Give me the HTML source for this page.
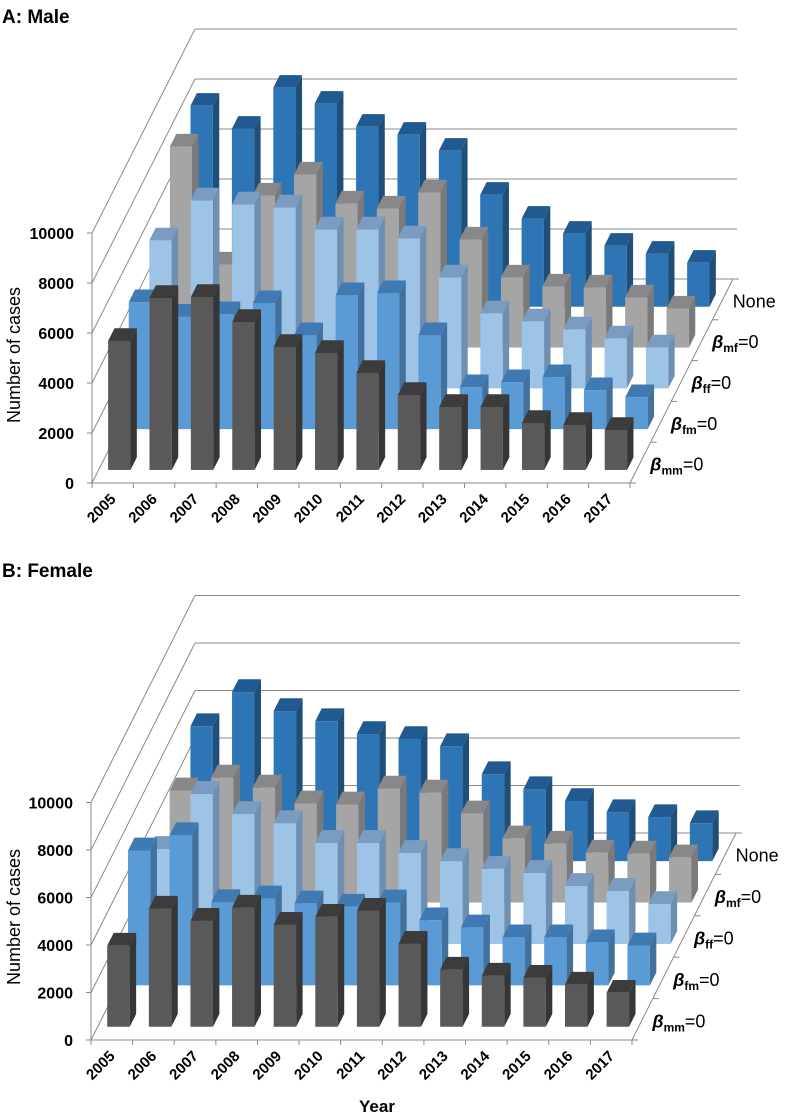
<!DOCTYPE html>
<html><head><meta charset="utf-8">
<style>
html,body{margin:0;padding:0;background:#fff;}
svg{display:block;font-family:"Liberation Sans",sans-serif;}
</style></head>
<body>
<svg id="fig" width="787" height="1116" viewBox="0 0 787 1116" xmlns="http://www.w3.org/2000/svg">
<text x="2" y="23" font-size="19" font-weight="bold">A: Male</text>
<text x="2" y="577" font-size="19" font-weight="bold">B: Female</text>
<g id="chartA"></g>
<g id="chartB"></g>
<text x="377" y="1112" font-size="17" font-weight="bold" text-anchor="middle">Year</text>
</svg>
<script>
const years = ["2005","2006","2007","2008","2009","2010","2011","2012","2013","2014","2015","2016","2017"];
const yTicks = [0,2000,4000,6000,8000,10000];
const seriesKeys = ["mm","fm","ff","mf","none"];
const maleMm   = [5160,6880,6920,5920,4920,4680,3880,3000,2520,2520,1880,1800,1600];
const maleFm   = [5080,4500,4600,5040,3760,5360,5440,3760,1680,1880,2080,1560,1280];
const maleFf   = [5920,7520,7360,7240,6360,6360,6000,4440,3000,2680,2360,2000,1640];
const maleMf   = [8040,3320,6080,6920,5760,5560,6200,4320,2800,2440,2400,2000,1560];
const maleNone = [8040,7120,8760,8120,7200,6880,6240,4480,3520,2920,2440,2120,1760];
const femaleMm   = [3410,4970,4460,5010,4290,4630,4880,3490,2400,2150,2060,1770,1430];
const femaleFm   = [5680,6320,3500,3660,3450,3310,3490,2740,2440,2020,2020,1810,1680];
const femaleFf   = [4000,6320,5470,5090,4250,4250,3830,3490,3160,2990,2440,2230,1680];
const femaleMf   = [4720,5260,4840,4170,4130,4800,4630,3750,2700,2480,2100,2060,1900];
const femaleNone = [5680,7120,6320,5890,5350,5140,4840,3660,3030,2530,2060,1850,1600];

const NS = "http://www.w3.org/2000/svg";
const colors = {
  mm:  {front:"#595959", top:"#3c3c3c", side:"#363636"},
  fm:  {front:"#5b9bd5", top:"#3f7ab2", side:"#41719c"},
  ff:  {front:"#9dc3e6", top:"#7a9cc0", side:"#6f8fb0"},
  mf:  {front:"#a5a5a5", top:"#888888", side:"#7a7a7a"},
  none:{front:"#2e75b6", top:"#215a90", side:"#1f4e79"}
};
function mk(tag, attrs, parent){
  const e = document.createElementNS(NS, tag);
  for (const k in attrs) e.setAttribute(k, attrs[k]);
  parent.appendChild(e);
  return e;
}
function drawChart(g, cfg, data){
  const {ox, oy, len, dx, dy, scale} = cfg;
  const cw = len / years.length;
  const yPx = v => oy - v*scale;
  const xCat = k => ox + k*cw;
  yTicks.forEach((t,i)=>{
    const y = yPx(t);
    const l1 = mk("line",{x1:ox,y1:y,x2:ox+dx,y2:y+dy,stroke:"#8a8a8a","stroke-width":1},g);
    
    
    const l2 = mk("line",{x1:ox+dx,y1:y+dy,x2:ox+dx+len+4,y2:y+dy,stroke:"#8a8a8a","stroke-width":1},g);
    
    
    const tk = mk("line",{x1:ox-5,y1:y,x2:ox,y2:y,stroke:"#8a8a8a"},g);
    
    
    const tx = mk("text",{x:ox-18,y:y+6,"font-size":16,"font-weight":"bold","text-anchor":"end"},g);
    tx.textContent = t;
    
    
  });
  const ax = mk("line",{x1:ox,y1:yPx(0),x2:ox,y2:yPx(10000),stroke:"#8a8a8a"},g);
  
  
  const fl = mk("line",{x1:ox,y1:oy,x2:ox+len,y2:oy,stroke:"#8a8a8a"},g);
  
  
  const rl = mk("line",{x1:ox+len,y1:oy,x2:ox+len+dx,y2:oy+dy,stroke:"#8a8a8a"},g);
  
  
  for (let k=0;k<=years.length;k++){
    const t = mk("line",{x1:xCat(k),y1:oy,x2:xCat(k),y2:oy+5,stroke:"#8a8a8a"},g);
    
    
  }
  for (let i=0;i<=5;i++){
    const d=i/5;
    const t = mk("line",{x1:ox+len+dx*d,y1:oy+dy*d,x2:ox+len+dx*d+6,y2:oy+dy*d,stroke:"#8a8a8a"},g);
    
    
  }
  const bw = cw*0.54, bdx = dx*0.062, bdy = dy*0.062;
  for (let i=seriesKeys.length-1;i>=0;i--){
    const key = seriesKeys[i], vals = data[key], c = colors[key];
    const d = 0.064 + i*0.2;
    for (let k=0;k<years.length;k++){
      const x = xCat(k) + (cw-bw)/2 + dx*d;
      const yb = oy + dy*d;
      const yt = yb - vals[k]*scale;
      const bar = mk("g",{},g);
      
      
      mk("rect",{x:x,y:yt,width:bw,height:yb-yt,fill:c.front},bar);
      mk("polygon",{points:`${x},${yt} ${x+bdx},${yt+bdy} ${x+bw+bdx},${yt+bdy} ${x+bw},${yt}`,fill:c.top},bar);
      mk("polygon",{points:`${x+bw},${yt} ${x+bw+bdx},${yt+bdy} ${x+bw+bdx},${yb+bdy} ${x+bw},${yb}`,fill:c.side},bar);
    }
  }
  years.forEach((yr,k)=>{
    const cx = xCat(k)+cw/2+4, cy = oy+17;
    const t = mk("text",{x:cx,y:cy,"font-size":15,"font-weight":"bold","text-anchor":"end",transform:`rotate(-45 ${cx} ${cy})`},g);
    t.textContent = yr;
    
    
  });
  const labs = ["mm","fm","ff","mf"];
  for (let i=0;i<5;i++){
    const d=(i+0.5)/5;
    const lx = ox+len+dx*d+10, ly = oy+dy*d+8;
    const t = mk("text",{x:lx,y:ly,"font-size":18},g);
    if (i===4){ t.textContent="None"; }
    else {
      const b = mk("tspan",{"font-style":"italic","font-weight":"bold"},t); b.textContent="\u03b2";
      const s = mk("tspan",{"font-size":12,"font-weight":"bold",dy:4},t); s.textContent=labs[i];
      const e = mk("tspan",{dy:-4},t); e.textContent="=0";
    }
    
    
  }
  const yt = mk("text",{x:0,y:0,"font-size":18,"text-anchor":"middle",transform:`translate(20 ${cfg.titleY}) rotate(-90)`},g);
  yt.textContent = "Number of cases";
  
  
}
drawChart(document.getElementById("chartA"),
  {ox:92, oy:483, len:538, dx:103, dy:-204, scale:0.025, titleY:355},
  {mm:maleMm, fm:maleFm, ff:maleFf, mf:maleMf, none:maleNone});
drawChart(document.getElementById("chartB"),
  {ox:91, oy:1040, len:541, dx:104, dy:-207, scale:0.02375, titleY:917},
  {mm:femaleMm, fm:femaleFm, ff:femaleFf, mf:femaleMf, none:femaleNone});
</script>
</body></html>
